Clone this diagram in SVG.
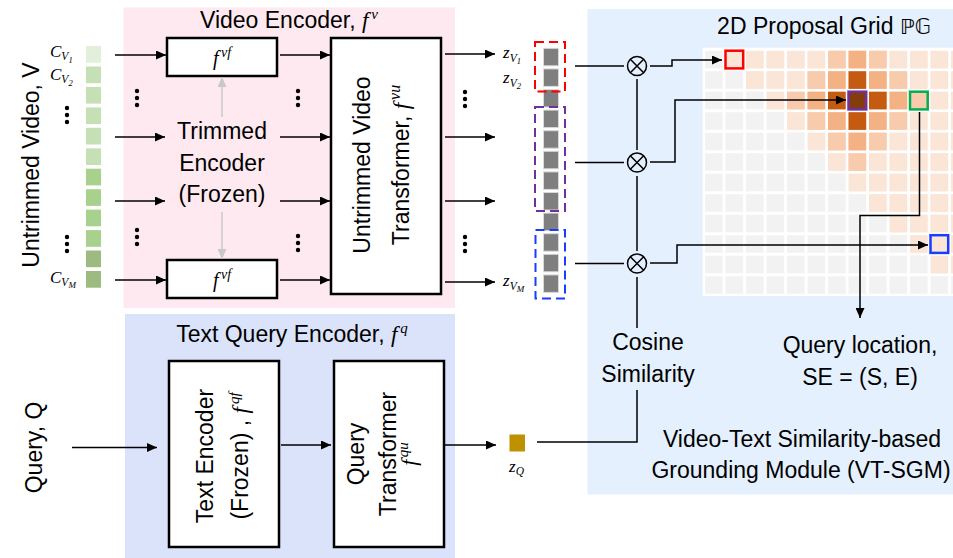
<svg xmlns="http://www.w3.org/2000/svg" width="953" height="558" viewBox="0 0 953 558">
<defs>
<style>
.t{font-family:"Liberation Sans",Arial,sans-serif;font-size:23px;fill:#000}
.m{font-family:"Liberation Serif","Times New Roman",serif;font-style:italic;fill:#000}
.ln{fill:none;stroke:#000;stroke-width:1.5}
.ar{fill:none;stroke:#000;stroke-width:1.5;marker-end:url(#ah)}
.ga{fill:none;stroke:#c8c8c8;stroke-width:1.5;marker-end:url(#gh)}
.box{fill:#fff;stroke:#000;stroke-width:2.5}
.emb{fill:#7f7f7f;stroke:#d9d9d9;stroke-width:1}
.m1{fill:#f8cbad}.m2{fill:#f4b183}.m3{fill:#c55a11}.m4{fill:#843c0c}
.f0{fill:#e2efda}.f1{fill:#c5e0b4}.f2{fill:#a9d18e}.f3{fill:#9dbb80}
.dash{fill:none;stroke-width:2;stroke-dasharray:9 5}
.hl{fill:none;stroke-width:2.5}
.ox{fill:none;stroke:#000;stroke-width:1.5}
</style>
<marker id="ah" viewBox="0 0 10 9" refX="10" refY="4.5" markerWidth="10" markerHeight="9" markerUnits="userSpaceOnUse" orient="auto"><path d="M0,0L10,4.5L0,9z" fill="#000"/></marker>
<marker id="gh" viewBox="0 0 10 9" refX="10" refY="4.5" markerWidth="10" markerHeight="9" markerUnits="userSpaceOnUse" orient="auto"><path d="M0,0L10,4.5L0,9z" fill="#c8c8c8"/></marker>
<pattern id="pg" x="705" y="50.7" width="20.5" height="20.5" patternUnits="userSpaceOnUse"><rect width="17.7" height="17.7" fill="#f2f2f2"/></pattern>
<pattern id="pp" x="705" y="50.7" width="20.5" height="20.5" patternUnits="userSpaceOnUse"><rect width="17.7" height="17.7" fill="#fbe5d6"/></pattern>
<g id="vd"><circle cx="0" cy="-7" r="2.2"/><circle cx="0" cy="0" r="2.2"/><circle cx="0" cy="7" r="2.2"/></g>
<rect id="cell" width="17.7" height="17.7"/>
<g id="otimes"><circle cx="0" cy="0" r="9.5" class="ox"/><path d="M-6.7,-6.7L6.7,6.7M6.7,-6.7L-6.7,6.7" class="ox"/></g>
</defs>

<rect width="953" height="558" fill="#fff"/>

<!-- panels -->
<g id="video-encoder-panel">
<rect x="123.5" y="7.5" width="331.5" height="300.5" fill="#fde9ef"/>
<text class="t" x="289" y="28" text-anchor="middle">Video Encoder, <tspan class="m" font-size="23">f</tspan><tspan class="m" font-size="15" dx="3" dy="-9">v</tspan></text>
</g>
<g id="text-query-encoder-panel">
<rect x="125" y="314" width="330" height="244" fill="#dae3fa"/>
<text class="t" x="292" y="342" text-anchor="middle">Text Query Encoder, <tspan class="m" font-size="23">f</tspan><tspan class="m" font-size="15" dx="3" dy="-9">q</tspan></text>
</g>
<g id="vt-sgm-panel">
<rect x="587.5" y="9" width="365.5" height="485.5" fill="#e4f0fd"/>
<text class="t" x="802" y="447" text-anchor="middle">Video-Text Similarity-based</text>
<text class="t" x="801" y="478" text-anchor="middle">Grounding Module (VT-SGM)</text>
</g>

<!-- untrimmed video input -->
<g id="untrimmed-video">
<text class="t" font-size="25" transform="translate(38.5,165) rotate(-90)" text-anchor="middle">Untrimmed Video, V</text>
<rect class="f0" x="86" y="46" width="15" height="16.7"/>
<rect class="f1" x="86" y="66.5" width="15" height="16.7"/>
<rect class="f1" x="86" y="86.9" width="15" height="16.7"/>
<rect class="f1" x="86" y="107.4" width="15" height="16.7"/>
<rect class="f1" x="86" y="127.8" width="15" height="16.7"/>
<rect class="f1" x="86" y="148.3" width="15" height="16.7"/>
<rect class="f2" x="86" y="168.7" width="15" height="16.7"/>
<rect class="f2" x="86" y="189.2" width="15" height="16.7"/>
<rect class="f2" x="86" y="209.6" width="15" height="16.7"/>
<rect class="f2" x="86" y="230.1" width="15" height="16.7"/>
<rect class="f3" x="86" y="250.5" width="15" height="16.7"/>
<rect class="f3" x="86" y="271" width="15" height="16.7"/>
<text class="m" x="50" y="57" font-size="17">C<tspan font-size="11.5" dy="3">V</tspan><tspan font-size="8.5" dy="2.5">1</tspan></text>
<text class="m" x="50" y="80" font-size="17">C<tspan font-size="11.5" dy="3">V</tspan><tspan font-size="8.5" dy="2.5">2</tspan></text>
<text class="m" x="50" y="283" font-size="17">C<tspan font-size="11.5" dy="3">V</tspan><tspan font-size="9" dy="1.5">M</tspan></text>
<use href="#vd" x="67" y="115"/>
<use href="#vd" x="67" y="244"/>
</g>

<!-- video encoder internals -->
<g id="f-vf-top">
<rect class="box" x="167" y="38" width="110" height="38"/>
<text class="m" x="222" y="65" font-size="20" text-anchor="middle">f<tspan font-size="14" dx="2.5" dy="-8">vf</tspan></text>
</g>
<g id="trimmed-encoder">
<text class="t" x="222" y="139" text-anchor="middle">Trimmed</text>
<text class="t" x="222" y="170.5" text-anchor="middle">Encoder</text>
<text class="t" x="222" y="201.5" text-anchor="middle">(Frozen)</text>
</g>
<g id="f-vf-bottom">
<rect class="box" x="167" y="260" width="110" height="38"/>
<text class="m" x="222" y="287" font-size="20" text-anchor="middle">f<tspan font-size="14" dx="2.5" dy="-8">vf</tspan></text>
</g>
<g id="untrimmed-video-transformer">
<rect class="box" x="331" y="38" width="110" height="256"/>
<text class="t" font-size="24" transform="translate(386,165) rotate(-90)" text-anchor="middle"><tspan x="0" y="-16">Untrimmed Video</tspan><tspan x="0" y="23">Transformer, <tspan class="m">f</tspan><tspan class="m" font-size="16" dx="3" dy="-9">vu</tspan></tspan></text>
</g>
<g id="dots">
<use href="#vd" x="137" y="98"/>
<use href="#vd" x="137" y="237"/>
<use href="#vd" x="298" y="98"/>
<use href="#vd" x="298" y="243"/>
<use href="#vd" x="465" y="99"/>
<use href="#vd" x="465" y="244"/>
</g>

<!-- video embeddings -->
<g id="video-embeddings">
<rect class="emb" x="543.5" y="48.3" width="15" height="17.5"/>
<rect class="emb" x="543.5" y="68.9" width="15" height="17.5"/>
<rect class="emb" x="543.5" y="89.5" width="15" height="17.5"/>
<rect class="emb" x="543.5" y="110.1" width="15" height="17.5"/>
<rect class="emb" x="543.5" y="130.7" width="15" height="17.5"/>
<rect class="emb" x="543.5" y="151.3" width="15" height="17.5"/>
<rect class="emb" x="543.5" y="171.9" width="15" height="17.5"/>
<rect class="emb" x="543.5" y="192.5" width="15" height="17.5"/>
<rect class="emb" x="543.5" y="213.1" width="15" height="17.5"/>
<rect class="emb" x="543.5" y="233.7" width="15" height="17.5"/>
<rect class="emb" x="543.5" y="254.3" width="15" height="17.5"/>
<rect class="emb" x="543.5" y="274.9" width="15" height="17.5"/>
<rect class="dash" stroke="#ff0000" x="535" y="42" width="30" height="49.5"/>
<rect class="dash" stroke="#7030a0" x="535" y="107" width="30" height="104"/>
<rect class="dash" stroke="#1a3cff" x="535.5" y="230" width="29.5" height="68.5"/>
<text class="m" x="503" y="58" font-size="17">z<tspan font-size="11.5" dy="4">V</tspan><tspan font-size="8.5" dy="2">1</tspan></text>
<text class="m" x="503" y="83" font-size="17">z<tspan font-size="11.5" dy="4">V</tspan><tspan font-size="8.5" dy="2">2</tspan></text>
<text class="m" x="503" y="286" font-size="17">z<tspan font-size="11.5" dy="4">V</tspan><tspan font-size="9" dy="1.5">M</tspan></text>
</g>

<!-- text branch -->
<g id="query-input">
<text class="t" transform="translate(42,447.5) rotate(-90)" text-anchor="middle">Query, Q</text>
</g>
<g id="text-encoder">
<rect class="box" x="169" y="361" width="110" height="186"/>
<text class="t" font-size="22" transform="translate(224,456) rotate(-90)" text-anchor="middle"><tspan x="0" y="-11">Text Encoder</tspan><tspan x="0" y="24">(Frozen) , <tspan class="m">f</tspan><tspan class="m" font-size="15" dx="3" dy="-9">qf</tspan></tspan></text>
</g>
<g id="query-transformer">
<rect class="box" x="334" y="361" width="110" height="186"/>
<text class="t" font-size="23" transform="translate(389,454) rotate(-90)" text-anchor="middle"><tspan x="0" y="-25">Query</tspan><tspan x="0" y="7">Transformer</tspan></text>
<text class="m" font-size="22" transform="translate(389,454) rotate(-90)" text-anchor="middle" x="0" y="27">f<tspan font-size="15" dx="2.5" dy="-8">qu</tspan></text>
</g>
<g id="z-q">
<rect x="509.5" y="434.5" width="15.5" height="17" fill="#bf9000"/>
<text class="m" x="509" y="472" font-size="17">z<tspan font-size="11.5" dy="3">Q</tspan></text>
</g>

<!-- grid -->
<g id="proposal-grid">
<text class="t" x="824" y="33.5" text-anchor="middle">2D Proposal Grid <tspan font-family="DejaVu Sans, sans-serif" font-size="21">ℙ𝔾</tspan></text>
<rect x="702.7" y="47.7" width="250.3" height="248.3" fill="#fff"/>
<rect x="705" y="50.7" width="248" height="245.3" fill="url(#pg)"/>
<polygon fill="url(#pp)" points="725.5,50.7 953,50.7 953,276.2 930.5,276.2 930.5,255.7 910,255.7 910,235.2 889.5,235.2 889.5,214.7 869,214.7 869,194.2 848.5,194.2 848.5,173.7 828,173.7 828,153.2 807.5,153.2 807.5,132.7 787,132.7 787,112.2 766.5,112.2 766.5,91.7 746,91.7 746,71.2 725.5,71.2"/>
<use href="#cell" class="m1" x="828" y="50.7"/>
<use href="#cell" class="m2" x="848.5" y="50.7"/>
<use href="#cell" class="m1" x="869" y="50.7"/>
<use href="#cell" class="m1" x="807.5" y="71.2"/>
<use href="#cell" class="m2" x="828" y="71.2"/>
<use href="#cell" class="m3" x="848.5" y="71.2"/>
<use href="#cell" class="m2" x="869" y="71.2"/>
<use href="#cell" class="m1" x="889.5" y="71.2"/>
<use href="#cell" class="m1" x="787" y="91.7"/>
<use href="#cell" class="m2" x="807.5" y="91.7"/>
<use href="#cell" class="m3" x="828" y="91.7"/>
<use href="#cell" class="m4" x="848.5" y="91.7"/>
<use href="#cell" class="m3" x="869" y="91.7"/>
<use href="#cell" class="m2" x="889.5" y="91.7"/>
<use href="#cell" class="m1" x="910" y="91.7"/>
<use href="#cell" class="m1" x="807.5" y="112.2"/>
<use href="#cell" class="m2" x="828" y="112.2"/>
<use href="#cell" class="m3" x="848.5" y="112.2"/>
<use href="#cell" class="m2" x="869" y="112.2"/>
<use href="#cell" class="m1" x="889.5" y="112.2"/>
<use href="#cell" class="m1" x="828" y="132.7"/>
<use href="#cell" class="m2" x="848.5" y="132.7"/>
<use href="#cell" class="m1" x="869" y="132.7"/>
<use href="#cell" class="m1" x="848.5" y="153.2"/>
<rect class="hl" stroke="#ff0000" x="725.5" y="50.7" width="17.7" height="17.7"/>
<rect class="hl" stroke="#7030a0" x="848.5" y="91.7" width="17.7" height="17.7"/>
<rect class="hl" stroke="#00b050" x="910" y="91.7" width="17.7" height="17.7"/>
<rect class="hl" stroke="#1a3cff" x="930.5" y="235.2" width="17.7" height="17.7"/>
</g>

<g id="otimes-1"><use href="#otimes" x="637" y="66"/></g>
<g id="otimes-2"><use href="#otimes" x="637" y="162.5"/></g>
<g id="otimes-3"><use href="#otimes" x="637" y="263.5"/></g>

<g id="cosine-similarity">
<text class="t" x="648" y="350" text-anchor="middle">Cosine</text>
<text class="t" x="648" y="382" text-anchor="middle">Similarity</text>
</g>
<g id="query-location">
<text class="t" x="860" y="353" text-anchor="middle">Query location,</text>
<text class="t" x="860" y="385" text-anchor="middle">SE = (S, E)</text>
</g>

<!-- connectors -->
<g id="connectors">
<path class="ar" d="M115,55H166"/>
<path class="ar" d="M115,137H165"/>
<path class="ar" d="M115,201H165"/>
<path class="ar" d="M115,280H166"/>
<path class="ar" d="M280,55H330"/>
<path class="ar" d="M280,137H330"/>
<path class="ar" d="M280,201H330"/>
<path class="ar" d="M280,280H330"/>
<path class="ar" d="M445,54H495"/>
<path class="ar" d="M445,137H495"/>
<path class="ar" d="M445,201H495"/>
<path class="ar" d="M445,282H495"/>
<path class="ga" d="M222,117V77"/>
<path class="ga" d="M222,212V259"/>
<path class="ln" d="M575,66H624"/>
<path class="ln" d="M575,162.5H624"/>
<path class="ln" d="M575,263.5H624"/>
<path class="ar" d="M650,66H672V60H722"/>
<path class="ar" d="M650,162H675V100H846"/>
<path class="ar" d="M650,263H677V245H928"/>
<path class="ar" d="M919.5,112V215.5H860V318"/>
<path class="ln" d="M637,79V150"/>
<path class="ln" d="M637,176V251"/>
<path class="ln" d="M637,277V328"/>
<path class="ln" d="M637,390V442H537"/>
<path class="ar" d="M72,447.5H157"/>
<path class="ar" d="M281,445H331"/>
<path class="ar" d="M444,445H496"/>
</g>
</svg>
